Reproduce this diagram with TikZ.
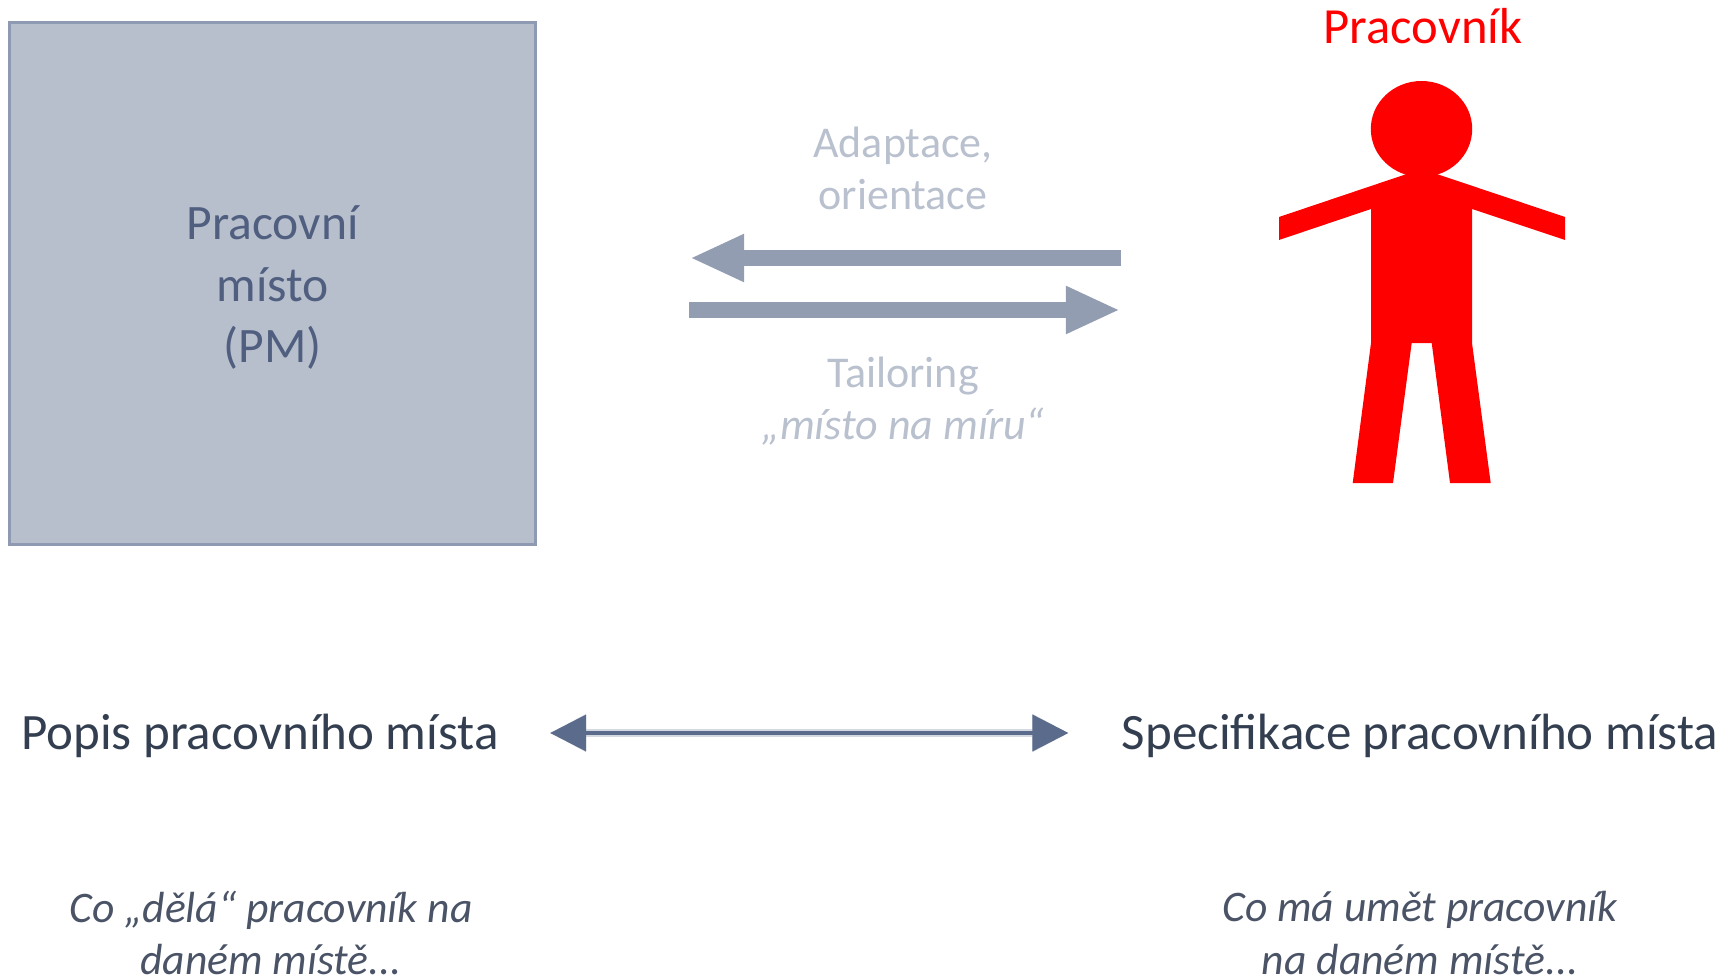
\documentclass[tikz,border=0pt]{standalone}
\usepackage{fontspec}
\setmainfont{Carlito}
\usetikzlibrary{arrows.meta, positioning}
\definecolor{boxfill}{HTML}{B8BFCC}
\definecolor{boxline}{HTML}{8E9AB2}
\definecolor{slate}{HTML}{505F80}
\definecolor{arrowslate}{HTML}{5B6B8C}
\definecolor{darktext}{HTML}{333F50}
\definecolor{italtext}{HTML}{4A5466}
\definecolor{arrowgrey}{HTML}{929DB2}
\definecolor{lighttext}{HTML}{B9C0CE}
\definecolor{halo}{HTML}{D5D9E1}
\begin{document}
\begin{tikzpicture}[
          x=0.01cm, y=-0.01cm,
          box/.style={rectangle, draw=boxline, fill=boxfill, line width=0.03cm, minimum width=5.25cm, minimum height=5.21cm, align=center, text=slate, font=\fontsize{14.1}{17.5}\selectfont},
          label/.style={align=center, text=lighttext, font=\fontsize{12.5}{15}\selectfont},
          title/.style={align=center, text=darktext, font=\fontsize{14.5}{18}\selectfont},
          note/.style={align=center, inner sep=0pt, text=italtext, font=\fontsize{12.4}{15}\selectfont\itshape},
          thickarrow/.style={-{Triangle[length=0.54cm, width=0.44cm]}, arrowgrey, line width=0.15cm},
          bothway/.style={{Triangle[length=0.36cm, width=0.36cm]}-{Triangle[length=0.36cm, width=0.36cm]}, arrowslate, line width=0.035cm, preaction={draw=halo, line width=0.08cm}}
        ]
          \useasboundingbox (0,0) rectangle (1733,976);

          \node[box] (place) at (272.5,283.5) {\rule{0pt}{0.42cm}Pracovní\\místo\\(PM)};
          \node[text=red, font=\fontsize{14.4}{18}\selectfont] (worker) at (1423,26) {Pracovník};

          \fill[red] (1421.5,129) ellipse (50.7 and 48);
          \fill[red] (1406.7,174) -- (1436.7,174) -- (1565,217) -- (1565,240) -- (1472,209) -- (1472,343)
            -- (1490.7,483) -- (1450,483) -- (1431.7,343) -- (1411.7,343) -- (1393,483) -- (1352.7,483)
            -- (1371,343) -- (1371,209) -- (1279,240) -- (1279,217) -- cycle;

          \node[label] (adapt) at (903,168.5) {Adaptace,\\orientace};
          \node[label] (tailor) at (903,401) {Tailoring\\\itshape „místo na míru“};
          \coordinate (adaptstart) at (1121,258);
          \coordinate (adaptend) at (690,258);
          \coordinate (tailorstart) at (689,310);
          \coordinate (tailorend) at (1120,310);
          \draw[thickarrow] (adaptstart) -- (adaptend);
          \draw[thickarrow] (tailorstart) -- (tailorend);

          \node[title] (duty) at (260,736) {Popis pracovního místa};
          \node[title] (spec) at (1420,736) {Specifikace pracovního místa};
          \draw[bothway, shorten <=0.39cm, shorten >=0.41cm] ([yshift=0.03cm]duty.east) -- ([yshift=0.03cm]spec.west);

          \node[note] (dutynote) at (271,933) {Co „dělá“ pracovník na\\daném místě...};
          \node[note] (specnote) at (1420,933) {Co má umět pracovník\\na daném místě...};
        \end{tikzpicture}
\end{document}
